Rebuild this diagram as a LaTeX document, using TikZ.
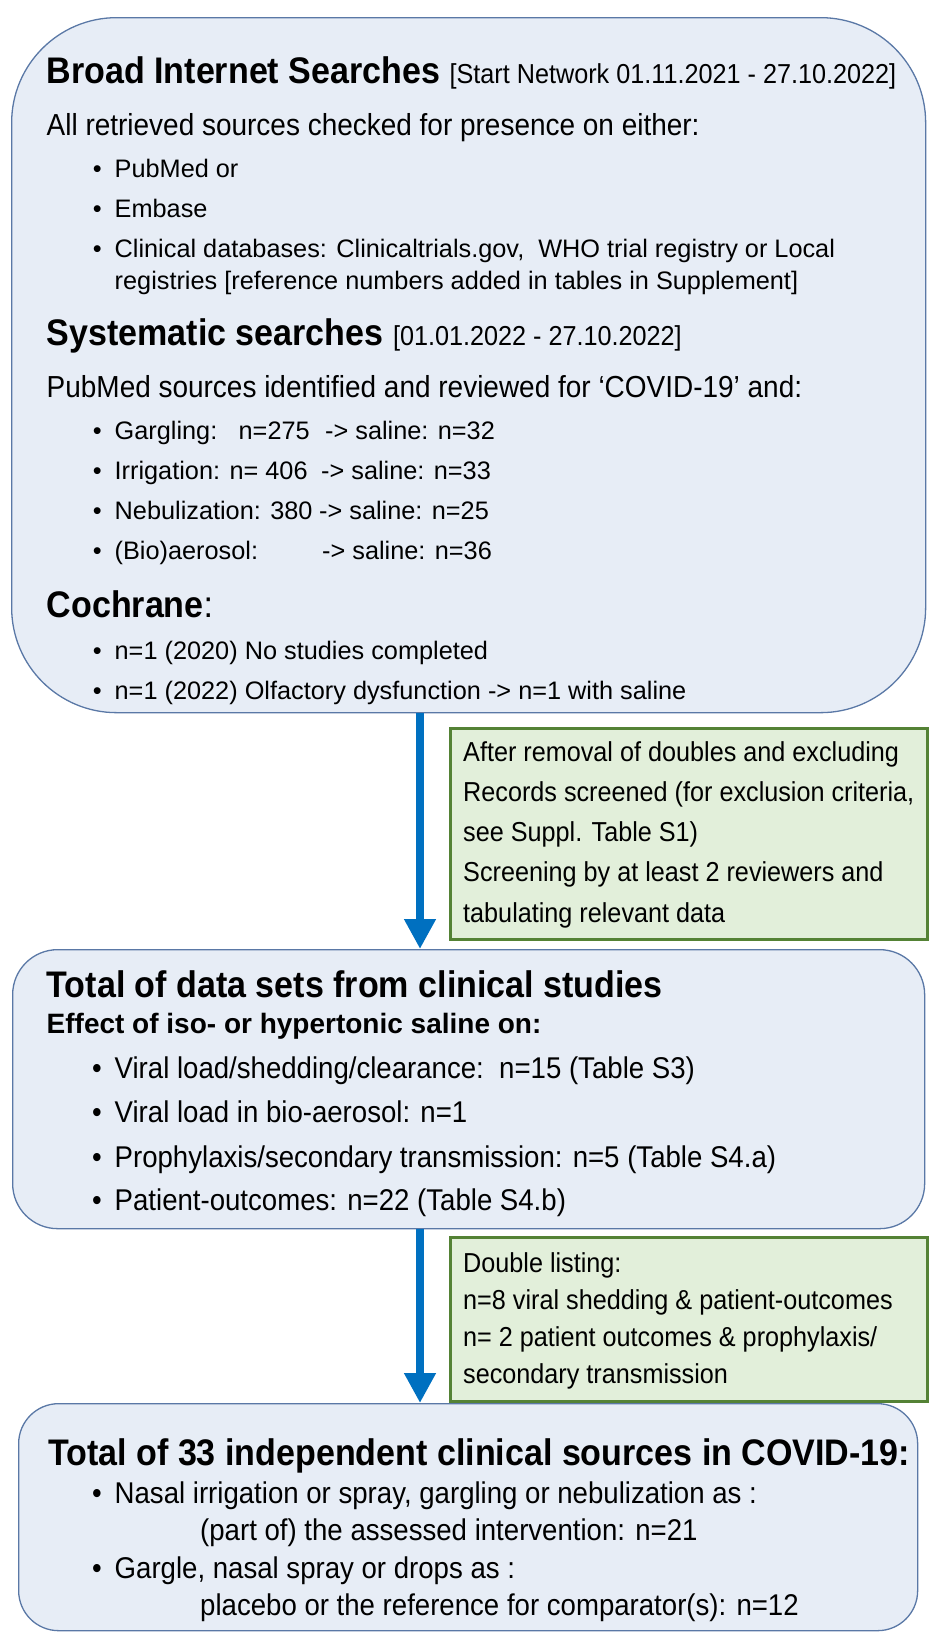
\documentclass[tikz,border=0pt]{standalone}
\usepackage{fontspec}
\setmainfont{Liberation Sans}
\newfontfamily\narrowfont{Liberation Sans}[FakeStretch=0.92]
\usetikzlibrary{arrows.meta,positioning}
\definecolor{PanelFill}{HTML}{E7EDF6}
\definecolor{PanelLine}{HTML}{5A78A6}
\definecolor{NoteFill}{HTML}{E2EFDA}
\definecolor{NoteLine}{HTML}{548235}
\definecolor{FlowBlue}{HTML}{0070C0}
\newcommand{\bul}{\llap{\textbullet\hspace{13pt}}}

\begin{document}
\begin{tikzpicture}[x=1pt,y=-1pt,
    panel/.style={draw=PanelLine,line width=1.3pt,fill=PanelFill,anchor=north west,inner sep=0pt},
    note/.style={draw=NoteLine,line width=3pt,fill=NoteFill,anchor=north west,inner sep=0pt},
    txt/.style={anchor=base west,inner sep=0pt},
    head/.style={txt,font=\narrowfont\bfseries\fontsize{37}{40}\selectfont},
    lead/.style={txt,font=\narrowfont\fontsize{30.4}{34}\selectfont},
    item/.style={txt,font=\fontsize{25.3}{30}\selectfont},
    itemw/.style={txt,font=\narrowfont\fontsize{30}{34}\selectfont},
    sub/.style={txt,font=\bfseries\fontsize{28}{32}\selectfont},
    notetext/.style={txt,font=\narrowfont\fontsize{27.4}{30}\selectfont},
    flow/.style={-{Triangle[width=30pt,length=30pt]},line width=8pt,draw=FlowBlue}
  ]
  \useasboundingbox (0,0) rectangle (935,1636);

  % frames
  \node[panel,rounded corners=105pt,minimum width=914pt,minimum height=695pt] (search) at (11,17) {};
  \node[note,minimum width=477pt,minimum height=211pt] (dedup) at (449,727) {};
  \node[panel,rounded corners=45pt,minimum width=912pt,minimum height=279pt] (sets) at (12,949) {};
  \node[note,minimum width=477pt,minimum height=164pt] (overlap) at (449,1236) {};
  \node[panel,rounded corners=40pt,minimum width=899pt,minimum height=227pt] (total) at (18,1403) {};

  \coordinate (spine) at (420,0);
  \draw[flow] (search.south -| spine) -- (sets.north -| spine);
  \draw[flow] (sets.south -| spine) -- (total.north -| spine);

  % searches
  \node[head] (h1) at (46.5,83) {Broad Internet Searches {\mdseries\fontsize{27.4}{30}\selectfont[Start Network 01.11.2021 - 27.10.2022]}};
  \node[lead] (s1) at (46.5,135) {All retrieved sources checked for presence on either:};
  \node[item] (s2) at (114.5,177) {\bul PubMed or};
  \node[item] (s3) at (114.5,217) {\bul Embase};
  \node[item] (s4) at (114.5,257) {\bul Clinical databases: Clinicaltrials.gov,\ \ WHO trial registry or Local};
  \node[item] (s5) at (114.5,289) {registries [reference numbers added in tables in Supplement]};
  \node[head] (h2) at (46.5,345) {Systematic searches {\mdseries\fontsize{27.4}{30}\selectfont[01.01.2022 - 27.10.2022]}};
  \node[lead] (s6) at (46.5,397) {PubMed sources identified and reviewed for ‘COVID-19’ and:};
  \node[item] (s7) at (114.5,439) {\bul\makebox[124pt][l]{Gargling:}\makebox[86.5pt][l]{n=275}-> saline: n=32};
  \node[item] (s8) at (114.5,479) {\bul\makebox[206.5pt][l]{Irrigation: n= 406}-> saline: n=33};
  \node[item] (s9) at (114.5,519) {\bul\makebox[204.5pt][l]{Nebulization: 380}-> saline: n=25};
  \node[item] (s10) at (114.5,559) {\bul\makebox[207.5pt][l]{(Bio)aerosol:}-> saline: n=36};
  \node[head] (h3) at (46.5,617) {Cochrane{\mdseries :}};
  \node[item] (s11) at (114.5,659) {\bul n=1 (2020) No studies completed};
  \node[item] (s12) at (114.5,699) {\bul n=1 (2022) Olfactory dysfunction -> n=1 with saline};

  % screening note
  \foreach \t [count=\i] in {After removal of doubles and excluding,
      {Records screened (for exclusion criteria,},
      see Suppl. Table S1),
      Screening by at least 2 reviewers and,
      tabulating relevant data}
    \node[notetext] (a\i) at (463,761+40.3*\i-40.3) {\t};

  % data sets
  \node[head] (h4) at (46.5,997) {Total of data sets from clinical studies};
  \node[sub] (d0) at (46.5,1033) {Effect of iso- or hypertonic saline on:};
  \node[itemw] (d1) at (114.5,1078) {\bul Viral load/shedding/clearance:\ \ n=15 (Table S3)};
  \node[itemw] (d2) at (114.5,1122) {\bul Viral load in bio-aerosol: n=1};
  \node[itemw] (d3) at (114.5,1167) {\bul Prophylaxis/secondary transmission: n=5 (Table S4.a)};
  \node[itemw] (d4) at (114.5,1210) {\bul Patient-outcomes: n=22 (Table S4.b)};

  % double listing note
  \foreach \t [count=\i] in {Double listing:,
      n=8 viral shedding \& patient-outcomes,
      n= 2 patient outcomes \& prophylaxis/,
      secondary transmission}
    \node[notetext] (b\i) at (463,1272+37*\i-37) {\t};

  % independent sources
  \node[head] (h5) at (48,1465) {Total of 33 independent clinical sources in COVID-19:};
  \node[itemw] (c1) at (114.5,1503) {\bul Nasal irrigation or spray, gargling or nebulization as :};
  \node[itemw] (c2) at (200,1540) {(part of) the assessed intervention: n=21};
  \node[itemw] (c3) at (114.5,1578) {\bul Gargle, nasal spray or drops as :};
  \node[itemw] (c4) at (200,1615) {placebo or the reference for comparator(s): n=12};
\end{tikzpicture}
\end{document}
